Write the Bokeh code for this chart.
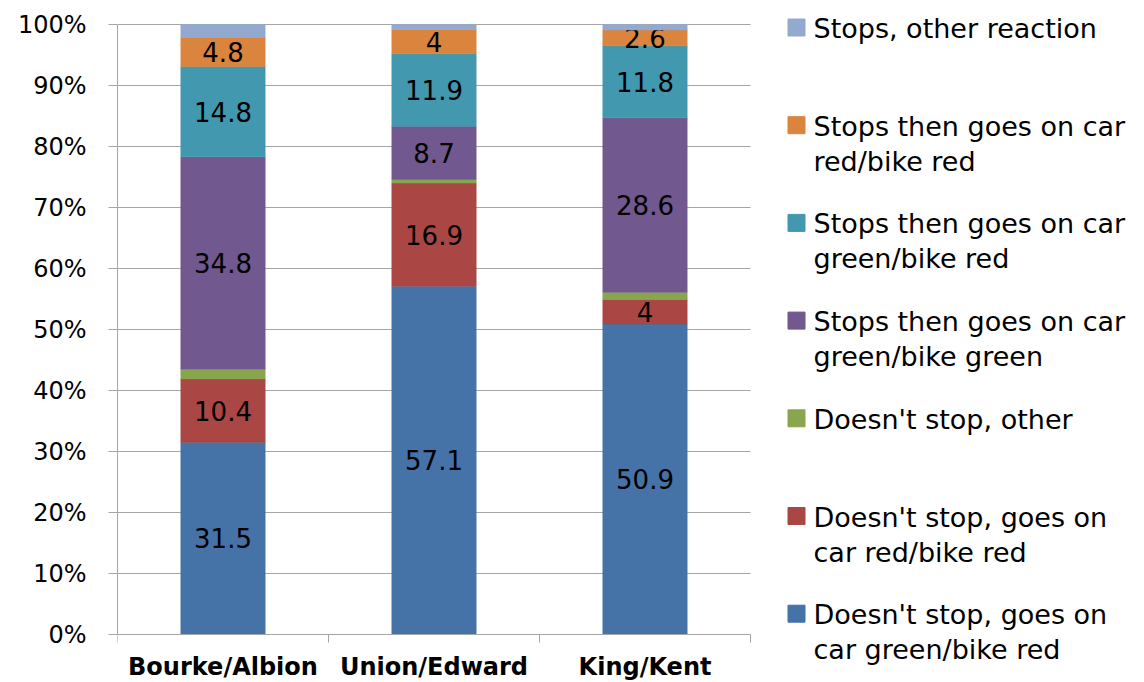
from bokeh.plotting import figure
from bokeh.models import Range1d, FixedTicker, PrintfTickFormatter, ColumnDataSource
from bokeh.embed import file_html
from bokeh.resources import INLINE
from bokeh.core.properties import value

categories = ["Bourke/Albion", "Union/Edward", "King/Kent"]
series = [
    "Doesn't stop, goes on car green/bike red",
    "Doesn't stop, goes on car red/bike red",
    "Doesn't stop, other",
    "Stops then goes on car green/bike green",
    "Stops then goes on car green/bike red",
    "Stops then goes on car red/bike red",
    "Stops, other reaction",
]
legend_lines = [
    ["Doesn't stop, goes on", "car green/bike red"],
    ["Doesn't stop, goes on", "car red/bike red"],
    ["Doesn't stop, other"],
    ["Stops then goes on car", "green/bike green"],
    ["Stops then goes on car", "green/bike red"],
    ["Stops then goes on car", "red/bike red"],
    ["Stops, other reaction"],
]
colors = ["#4572A7", "#AA4643", "#89A54E", "#71588F", "#4198AF", "#DB843D", "#93A9CF"]

dont_green_red = [31.5, 57.1, 50.9]
dont_red_red = [10.4, 16.9, 4.0]
dont_other = [1.6, 0.6, 1.2]
stops_green_green = [34.8, 8.7, 28.6]
stops_green_red = [14.8, 11.9, 11.8]
stops_red_red = [4.8, 4.0, 2.6]
stops_other = [2.1, 0.8, 0.9]
values = [dont_green_red, dont_red_red, dont_other, stops_green_green,
          stops_green_red, stops_red_red, stops_other]
labelled = [True, True, False, True, True, True, False]
y_ticks = list(range(0, 101, 10))

FONT = "DejaVu Sans"
GRID = "#A6A6A6"

# layout geometry (pixels in the picture): plot area from x=117, 0% at y=634, 100% at y=24
W, H = 1142, 680
LEFT = 117
PX_X = 211.0      # pixels per category
PX_Y = 6.1        # pixels per percent
PIX_X0, PIX_Y0 = 117.0, 634.0

def dx(px):
    return (px - PIX_X0) / PX_X

def dy(py):
    return (PIX_Y0 - py) / PX_Y

ncat = len(categories)
xs = [i + 0.5 for i in range(ncat)]

p = figure(width=W, height=H,
           x_range=Range1d(0, (W - LEFT) / PX_X),
           y_range=Range1d(dy(H), dy(0)),
           output_backend="svg", toolbar_location=None,
           min_border_left=LEFT, min_border_right=0, min_border_top=0, min_border_bottom=0)
p.outline_line_color = None
p.grid.visible = False
p.xaxis.visible = False

# gridlines (only over the plot area)
gl = [t for t in y_ticks if t > 0]
p.segment(x0=[0] * len(gl), x1=[ncat] * len(gl), y0=gl, y1=gl, line_color=GRID, line_width=1)

# stacked bars
bottoms = [0.0] * ncat
for vals, col, lab in zip(values, colors, labelled):
    tops = [b + v for b, v in zip(bottoms, vals)]
    src = ColumnDataSource(dict(x=xs, bottom=bottoms, top=tops,
                                mid=[(b + t) / 2 for b, t in zip(bottoms, tops)],
                                txt=[("%g" % v) for v in vals]))
    p.vbar(x="x", bottom="bottom", top="top", width=0.4, source=src,
           fill_color=col, line_color=col, line_width=0.5)
    if lab:
        p.text(x="x", y="mid", text="txt", source=src, text_align="center",
               text_baseline="middle", text_font=value(FONT), text_font_size="26px",
               text_color="black")
    bottoms = tops

# category axis (line, boundary ticks, labels)
tick_len = 8 / PX_Y
p.segment(x0=[0], x1=[ncat], y0=[0], y1=[0], line_color=GRID, line_width=1)
bx = list(range(ncat + 1))
p.segment(x0=bx, x1=bx, y0=[0] * len(bx), y1=[-tick_len] * len(bx), line_color=GRID, line_width=1)
p.text(x=xs, y=[dy(666)] * ncat, text=categories, text_align="center",
       text_baseline="middle", text_font=value(FONT), text_font_size="24px",
       text_font_style="bold", text_color="black")

# percentage axis
p.yaxis.bounds = (0, 100)
p.yaxis.ticker = FixedTicker(ticks=y_ticks)
p.yaxis.formatter = PrintfTickFormatter(format="%d%%")
p.yaxis.major_label_text_font = FONT
p.yaxis.major_label_text_font_size = "24px"
p.yaxis.major_label_text_color = "black"
p.yaxis.axis_line_color = GRID
p.yaxis.major_tick_line_color = GRID
p.yaxis.major_tick_out = 9
p.yaxis.major_tick_in = 0
p.yaxis.minor_tick_line_color = None
p.yaxis.major_label_standoff = 22

# legend (top entry = top of stack)
n = len(series)
sq_x, sq_y, sq_c = [], [], []
t_x, t_y, t_t = [], [], []
for k, i in enumerate(reversed(range(n))):
    y_pix = 27 + 97.7 * k
    sq_x.append(dx(796))
    sq_y.append(dy(y_pix))
    sq_c.append(colors[i])
    for j, line in enumerate(legend_lines[i]):
        t_x.append(dx(813))
        t_y.append(dy(y_pix + 1 + 35 * j))
        t_t.append(line)
p.scatter(x=sq_x, y=sq_y, marker="square", size=17, fill_color=sq_c, line_color=sq_c)
p.text(x=t_x, y=t_y, text=t_t, text_baseline="middle", text_align="left",
       text_font=value(FONT), text_font_size="27px", text_color="black")

open("out.html", "w").write(file_html(p, INLINE))
